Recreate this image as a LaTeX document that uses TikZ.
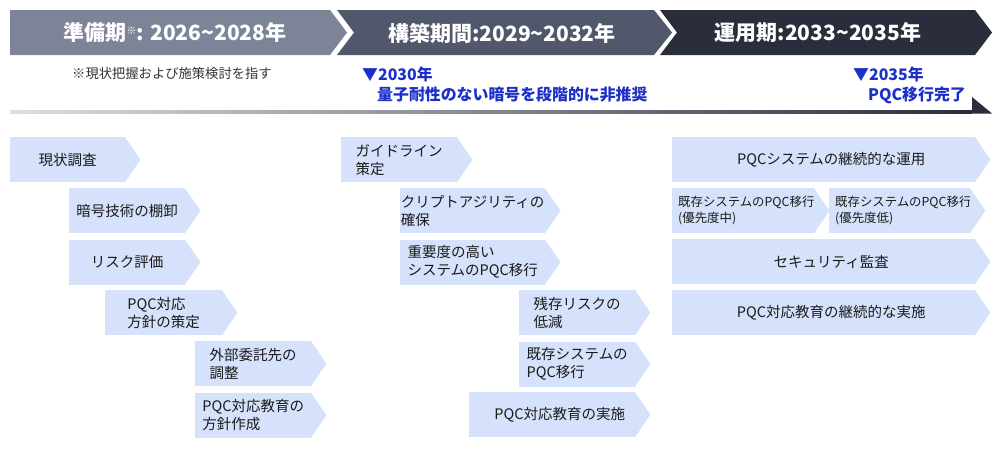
\documentclass[tikz,border=0pt]{standalone}
\usepackage{fontspec}
\setmainfont{Noto Sans CJK JP}
\usepackage{xcolor}
\usetikzlibrary{positioning}
\definecolor{phaseA}{RGB}{125,132,152}
\definecolor{phaseB}{RGB}{82,88,108}
\definecolor{phaseC}{RGB}{42,46,60}
\definecolor{barlight}{RGB}{218,222,234}
\definecolor{boxfill}{RGB}{214,226,251}
\definecolor{boxtext}{RGB}{26,26,26}
\definecolor{mileblue}{RGB}{28,48,200}
\definecolor{notegrey}{RGB}{51,51,51}
\tikzset{
	every node/.style={inner sep=0pt},
	headtext/.style={text=white, font=\fontsize{21}{21}\selectfont\bfseries},
	basebox/.style={fill=boxfill, anchor=north west, minimum height=45pt, text=boxtext,
		font=\fontsize{14.5}{18}\selectfont},
	stepbox/.style={basebox, align=left},
	widebox/.style={basebox, execute at begin node={\hspace*{15pt}}},
	smallbox/.style={stepbox, inner xsep=6pt, font=\fontsize{12.4}{16}\selectfont},
	milestone/.style={text=mileblue, anchor=west, align=left, font=\fontsize{15.9}{20}\selectfont\bfseries}
}
\newcommand{\sumark}{{\fontsize{10}{10}\selectfont\raisebox{6pt}{※}}}

\begin{document}
\begin{tikzpicture}[x=1pt, y=-1pt]
	\useasboundingbox (0,0) rectangle (1000,448);
	
	% phases
	\fill[phaseA] (10,10) -- (330,10) -- (347,32.5) -- (330,55) -- (10,55) -- cycle;
	\fill[phaseB] (337,10) -- (654,10) -- (672,32.5) -- (654,55) -- (337,55) -- (354,32.5) -- cycle;
	\fill[phaseC] (660,10) -- (975,10) -- (992,32.5) -- (975,55) -- (660,55) -- (677,32.5) -- cycle;
	\node[headtext] (prep) at (175,33) {準備期\sumark: 2026\textasciitilde 2028年};
	\node[headtext] (build) at (502,33) {構築期間:2029\textasciitilde 2032年};
	\node[headtext] (oper) at (818,33) {運用期:2033\textasciitilde 2035年};
	
	\node[notegrey, anchor=west, font=\fontsize{13.3}{13.3}\selectfont] (note) at (72,73) {※現状把握および施策検討を指す};
	\node[milestone] (ms2030) at (362,85) {▼2030年\\\hspace*{15pt}量子耐性のない暗号を段階的に非推奨};
	\node[milestone] (ms2035) at (853,85) {▼2035年\\\hspace*{15pt}PQC移行完了};
	
	% timeline
	\shade[left color=barlight, right color=phaseC] (10,110) rectangle (972,113.5);
	\fill[phaseC] (972,97) -- (992,113.5) -- (972,113.5) -- cycle;
	
	% preparation
	\node[stepbox, minimum width=115pt] (survey) at (10,137) {現状調査};
	\node[stepbox, minimum width=116pt] (inventory) at (69,188) {暗号技術の棚卸};
	\node[stepbox, minimum width=116pt, below=6pt of inventory] (risk) {リスク評価};
	\node[stepbox, minimum width=117pt] (policy) at (105,290) {PQC対応\\方針の策定};
	\node[stepbox, minimum width=116pt] (vendor) at (195,341) {外部委託先の\\調整};
	\node[stepbox, minimum width=116pt, below=6pt of vendor] (eduplan) {PQC対応教育の\\方針作成};
	
	% construction
	\node[stepbox, minimum width=116pt] (guide) at (341,137) {ガイドライン\\策定};
	\node[stepbox, minimum width=145pt] (agility) at (400,188) {クリプトアジリティの\\確保};
	\node[stepbox, minimum width=145pt, below=6pt of agility] (critical) {重要度の高い\\システムのPQC移行};
	\node[stepbox, minimum width=116pt] (residual) at (519,290) {残存リスクの\\低減};
	\node[stepbox, minimum width=116pt, below=6pt of residual] (legacy) {既存システムの\\PQC移行};
	\node[widebox, minimum width=166pt] (edu) at (469,392) {PQC対応教育の実施};
	
	% operation
	\node[widebox, minimum width=303pt] (run) at (672,137) {PQCシステムの継続的な運用};
	\node[smallbox, text width=130pt] (midprio) at (672,188) {既存システムのPQC移行\\(優先度中)};
	\node[smallbox, text width=129pt] (lowprio) at (829,188) {既存システムのPQC移行\\(優先度低)};
	\node[widebox, minimum width=303pt] (audit) at (672,239) {セキュリティ監査};
	\node[widebox, minimum width=303pt] (edurun) at (672,290) {PQC対応教育の継続的な実施};
	
	\foreach \n in {survey,inventory,risk,policy,vendor,eduplan,guide,agility,critical,residual,legacy,edu,run,midprio,lowprio,audit,edurun}
		\fill[boxfill] ([xshift=-0.5pt]\n.north east) -- ([xshift=15pt]\n.east) -- ([xshift=-0.5pt]\n.south east) -- cycle;
\end{tikzpicture}
\end{document}
